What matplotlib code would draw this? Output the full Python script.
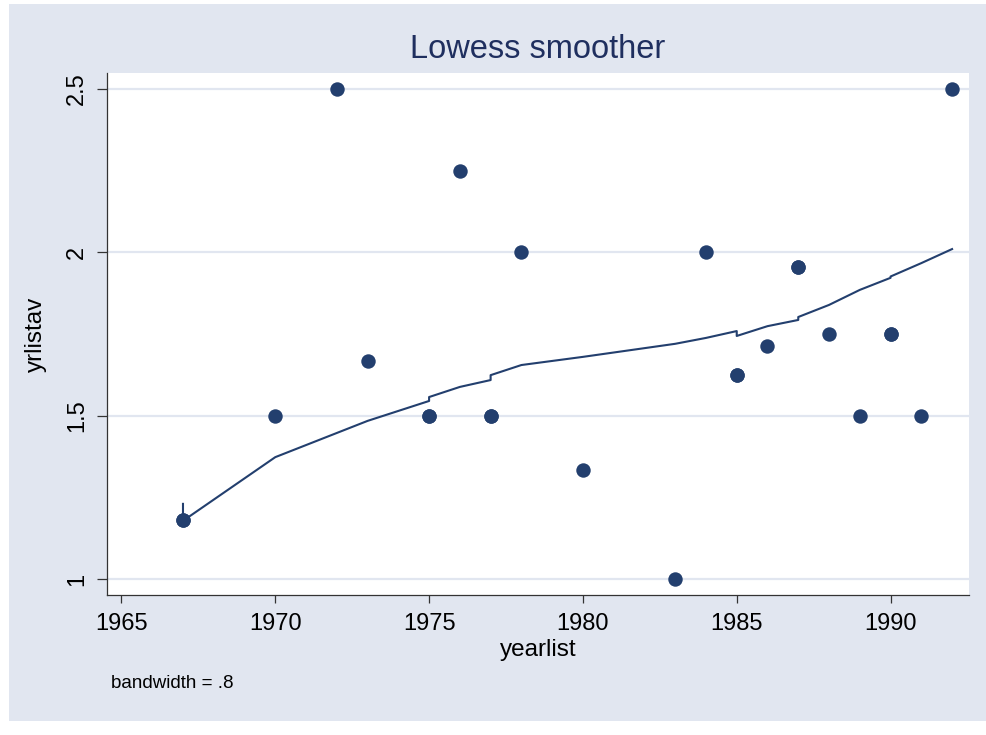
import matplotlib
matplotlib.use('Agg')
import matplotlib.pyplot as plt
from matplotlib.patches import Rectangle

plt.rcParams['font.family'] = ['Liberation Sans', 'DejaVu Sans']

# data (ties kept as in the source, lowess value per observation)
yearlist = [1967, 1967, 1970, 1972, 1973, 1975, 1975, 1976, 1977, 1977, 1978, 1980,
            1983, 1984, 1985, 1985, 1986, 1987, 1987, 1988, 1989, 1990, 1990, 1991, 1992]
yrlistav = [1.18, 1.18, 1.5, 2.5, 1.667, 1.5, 1.5, 2.25, 1.5, 1.5, 2.0, 1.333,
            1.0, 2.0, 1.625, 1.625, 1.714, 1.955, 1.955, 1.75, 1.5, 1.75, 1.75, 1.5, 2.5]
lowess = [1.23, 1.178, 1.373, 1.447, 1.484, 1.545, 1.557, 1.588, 1.609, 1.624, 1.655, 1.68,
          1.72, 1.738, 1.759, 1.744, 1.774, 1.793, 1.802, 1.839, 1.885, 1.922, 1.926, 1.967, 2.01]
xticks = [1965, 1970, 1975, 1980, 1985, 1990]
yticks = [1, 1.5, 2, 2.5]
yticklabels = ['1', '1.5', '2', '2.5']

W, H = 986, 735
navy = '#233f6e'
bg = '#e1e6f0'

fig = plt.figure(figsize=(W / 100, H / 100), dpi=100)
fig.patch.set_facecolor('white')

# graph region band
fig.patches.append(Rectangle((9 / W, (H - 721) / H), (W - 9) / W, (721 - 4) / H,
                             transform=fig.transFigure, facecolor=bg, edgecolor='none', zorder=-5))

ax = fig.add_axes([107 / W, (H - 595) / H, (969 - 107) / W, (595 - 73) / H])
ax.set_zorder(2)
ax.set_facecolor('white')

ax.set_xlim(1964.53, 1992.55)
ax.set_ylim(0.951, 2.549)

for y in yticks:
    ax.axhline(y, color=bg, lw=1.6, zorder=1)

ax.scatter(yearlist, yrlistav, s=108, color=navy, zorder=3, linewidths=0)
ax.plot(yearlist, lowess, color=navy, lw=1.5, zorder=4)

for s in ['top', 'right']:
    ax.spines[s].set_visible(False)
for s in ['left', 'bottom']:
    ax.spines[s].set_color('#333333')
    ax.spines[s].set_linewidth(0.9)

ax.set_xticks(xticks)
ax.set_xticklabels([str(t) for t in xticks], fontsize=17)
ax.set_yticks(yticks)
ax.set_yticklabels(yticklabels, fontsize=17, rotation=90, va='center')
ax.tick_params(axis='x', length=6, width=0.9, color='#333333', pad=7)
ax.tick_params(axis='y', length=7.5, width=0.9, color='#333333', pad=6)

ax.set_xlabel('yearlist', fontsize=17.5, labelpad=3)
ax.set_ylabel('yrlistav', fontsize=17.5, labelpad=14)

fig.text(538 / W, 1 - 50 / H, 'Lowess smoother', ha='center', va='center',
         fontsize=23.5, color='#1f2f5f')
fig.text(111 / W, 1 - 683 / H, 'bandwidth = .8', ha='left', va='center', fontsize=13.5)

fig.savefig('out.png', dpi=100, facecolor='white')
